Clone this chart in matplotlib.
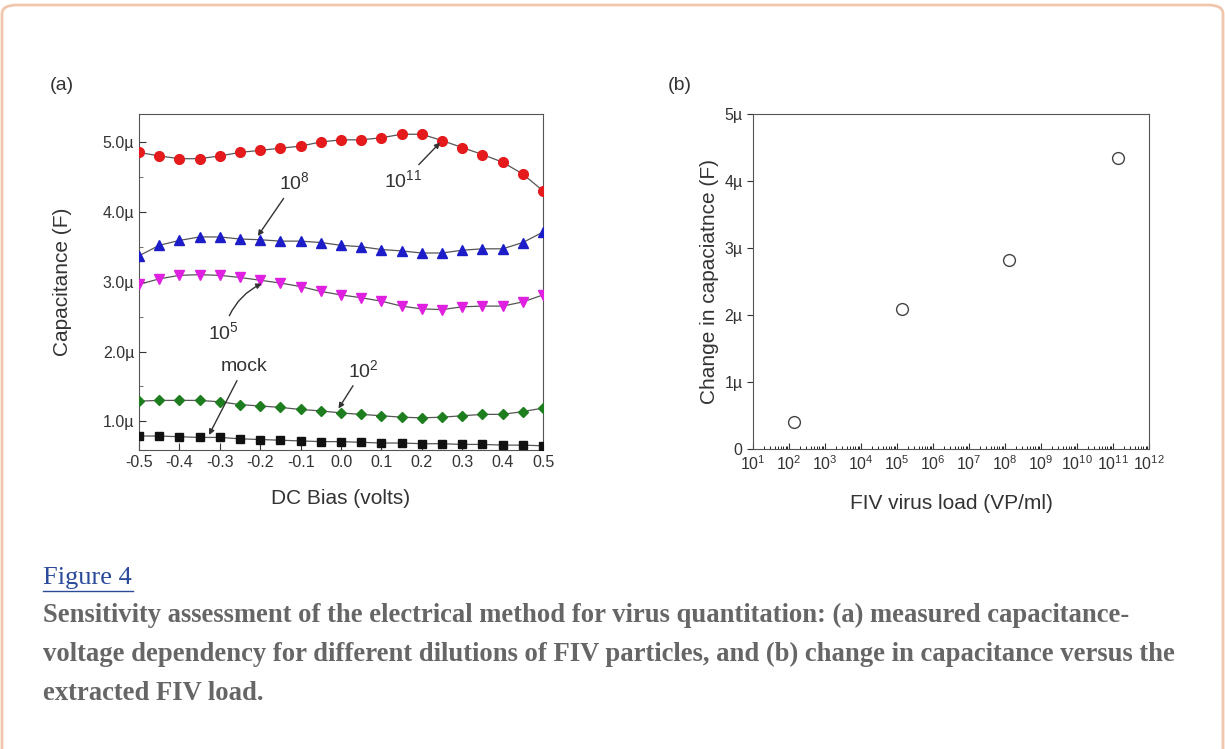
import numpy as np
import matplotlib
matplotlib.use("Agg")
import matplotlib.pyplot as plt
from matplotlib.patches import FancyBboxPatch
from matplotlib.ticker import FuncFormatter, MultipleLocator, LogLocator, NullFormatter

plt.rcParams['font.family'] = ['Liberation Sans', 'DejaVu Sans']
plt.rcParams['mathtext.fontset'] = 'custom'
plt.rcParams['mathtext.rm'] = 'Liberation Sans'
plt.rcParams['mathtext.it'] = 'Liberation Sans'

# ---- data (panel a): capacitance in uF vs DC bias ----
bias = [-0.5, -0.45, -0.4, -0.35, -0.3, -0.25, -0.2, -0.15, -0.1, -0.05, 0.0,
        0.05, 0.1, 0.15, 0.2, 0.25, 0.3, 0.35, 0.4, 0.45, 0.5]
cap_1e11 = [4.85, 4.80, 4.76, 4.76, 4.80, 4.85, 4.88, 4.91, 4.94, 5.00, 5.03,
            5.03, 5.06, 5.11, 5.11, 5.02, 4.92, 4.82, 4.71, 4.54, 4.30]
cap_1e8 = [3.37, 3.52, 3.59, 3.64, 3.64, 3.61, 3.60, 3.58, 3.58, 3.56, 3.52,
           3.50, 3.46, 3.44, 3.41, 3.41, 3.45, 3.47, 3.47, 3.56, 3.71]
cap_1e5 = [2.96, 3.04, 3.09, 3.10, 3.09, 3.06, 3.02, 2.98, 2.93, 2.86, 2.81,
           2.77, 2.72, 2.65, 2.61, 2.60, 2.64, 2.65, 2.65, 2.71, 2.81]
cap_1e2 = [1.29, 1.30, 1.30, 1.30, 1.28, 1.24, 1.22, 1.20, 1.17, 1.15, 1.12,
           1.10, 1.08, 1.06, 1.05, 1.06, 1.08, 1.10, 1.10, 1.14, 1.19]
cap_mock = [0.79, 0.79, 0.78, 0.77, 0.77, 0.75, 0.74, 0.73, 0.72, 0.71, 0.71,
            0.70, 0.69, 0.69, 0.68, 0.68, 0.67, 0.67, 0.66, 0.66, 0.65]

# ---- data (panel b): change in capacitance (uF) vs virus load ----
virus_load = [1.4e2, 1.35e5, 1.3e8, 1.35e11]
delta_cap = [0.41, 2.09, 2.82, 4.34]

fig = plt.figure(figsize=(12.25, 7.49), dpi=100)

# page card border
card = FancyBboxPatch((2 / 1225, -0.05), 1221 / 1225, 1 - 5 / 749 + 0.05,
                      boxstyle="round,pad=0,rounding_size=0.012",
                      transform=fig.transFigure, fill=False,
                      edgecolor='#f0c6ad', linewidth=2)
fig.patches.append(card)

txt = '#333333'

# ---------------- panel (a) ----------------
ax = fig.add_axes([0.1135, 0.3992, 0.3298, 0.4486])
series = [
    (cap_1e11, 'o', '#e41a1c', 7),
    (cap_1e8, '^', '#1c1cc8', 7),
    (cap_1e5, 'v', '#e020e0', 7),
    (cap_1e2, 'D', '#1e7d1e', 5.5),
    (cap_mock, 's', '#111111', 6),
]
for vals, mk, col, size in series:
    ax.plot(bias, vals, color='#555555', lw=0.9, zorder=2)
    ax.plot(bias, vals, ls='none', marker=mk, color=col, ms=size, zorder=3)

ax.set_xlim(-0.5, 0.5)
ax.set_ylim(0.59, 5.4)
ax.xaxis.set_major_locator(MultipleLocator(0.1))
ax.yaxis.set_major_locator(MultipleLocator(1.0))
ax.yaxis.set_minor_locator(MultipleLocator(0.5))
ax.xaxis.set_major_formatter(FuncFormatter(lambda v, p: f"{v:.1f}"))
ax.yaxis.set_major_formatter(FuncFormatter(lambda v, p: f"{v:.1f}\u00b5"))
ax.tick_params(direction='in', labelsize=11.5, colors=txt, length=5)
ax.tick_params(which='minor', direction='in', length=3, colors='#555555')
for s in ax.spines.values():
    s.set_color('#555555')
ax.set_xlabel('DC Bias (volts)', fontsize=15, color=txt, labelpad=14)
ax.set_ylabel('Capacitance (F)', fontsize=15, color=txt, labelpad=22)

arrow = dict(arrowstyle='-|>', color=txt, lw=1, mutation_scale=8)
ax.annotate(r'$\mathregular{10^{11}}$', xy=(0.25, 5.02), xytext=(0.155, 4.45),
            fontsize=14, color=txt, ha='center', va='center',
            arrowprops=arrow)
ax.annotate(r'$\mathregular{10^{8}}$', xy=(-0.21, 3.62), xytext=(-0.115, 4.42),
            fontsize=14, color=txt, ha='center', va='center',
            arrowprops=arrow)
ax.annotate(r'$\mathregular{10^{5}}$', xy=(-0.19, 2.99), xytext=(-0.29, 2.28),
            fontsize=14, color=txt, ha='center', va='center',
            arrowprops=dict(arrow, connectionstyle='arc3,rad=-0.25'))
ax.annotate('mock', xy=(-0.33, 0.77), xytext=(-0.24, 1.78),
            fontsize=14, color=txt, ha='center', va='center',
            arrowprops=arrow)
ax.annotate(r'$\mathregular{10^{2}}$', xy=(-0.01, 1.15), xytext=(0.055, 1.74),
            fontsize=14, color=txt, ha='center', va='center',
            arrowprops=arrow)

fig.text(50 / 1225, 1 - 85 / 749, '(a)', fontsize=14, color=txt, va='center')

# ---------------- panel (b) ----------------
bx = fig.add_axes([0.6147, 0.4001, 0.3233, 0.4481])
bx.plot(virus_load, delta_cap, ls='none', marker='o', mfc='white',
        mec='#444444', ms=8.5, mew=1)
bx.set_xscale('log')
bx.set_xlim(1e1, 1e12)
bx.set_ylim(0, 5)
bx.xaxis.set_major_locator(LogLocator(base=10, numticks=20))
bx.xaxis.set_minor_locator(LogLocator(base=10, subs=np.arange(2, 10), numticks=20))
bx.xaxis.set_minor_formatter(NullFormatter())
bx.yaxis.set_major_locator(MultipleLocator(1))
bx.yaxis.set_major_formatter(FuncFormatter(
    lambda v, p: '0' if v == 0 else f"{v:.0f}\u00b5"))
bx.tick_params(axis='x', direction='in', length=4, labelsize=11.5, colors=txt)
bx.tick_params(axis='x', which='minor', direction='in', length=2)
bx.tick_params(axis='y', direction='out', length=4, labelsize=11.5, colors=txt)
for s in bx.spines.values():
    s.set_color('#555555')
bx.set_xlabel('FIV virus load (VP/ml)', fontsize=15, color=txt, labelpad=15)
bx.set_ylabel('Change in capaciatnce (F)', fontsize=15, color=txt, labelpad=4)

fig.text(668 / 1225, 1 - 85 / 749, '(b)', fontsize=14, color=txt, va='center')

# ---------------- caption ----------------
serif = ['Liberation Serif', 'DejaVu Serif']
fig.text(43 / 1225, 1 - 578 / 749, 'Figure 4', fontsize=19, color='#2b4a9a',
         family=serif, va='center')
fig.add_artist(plt.Line2D([43 / 1225, 133 / 1225], [1 - 591 / 749, 1 - 591 / 749],
                          color='#2b4a9a', lw=1))
caption = [
    'Sensitivity assessment of the electrical method for virus quantitation: (a) measured capacitance-',
    'voltage dependency for different dilutions of FIV particles, and (b) change in capacitance versus the',
    'extracted FIV load.',
]
for i, line in enumerate(caption):
    fig.text(43 / 1225, 1 - (615 + 39 * i) / 749, line, fontsize=19.2,
             fontweight='bold', color='#666666', family=serif, va='center')

fig.savefig('out.png', dpi=100)
